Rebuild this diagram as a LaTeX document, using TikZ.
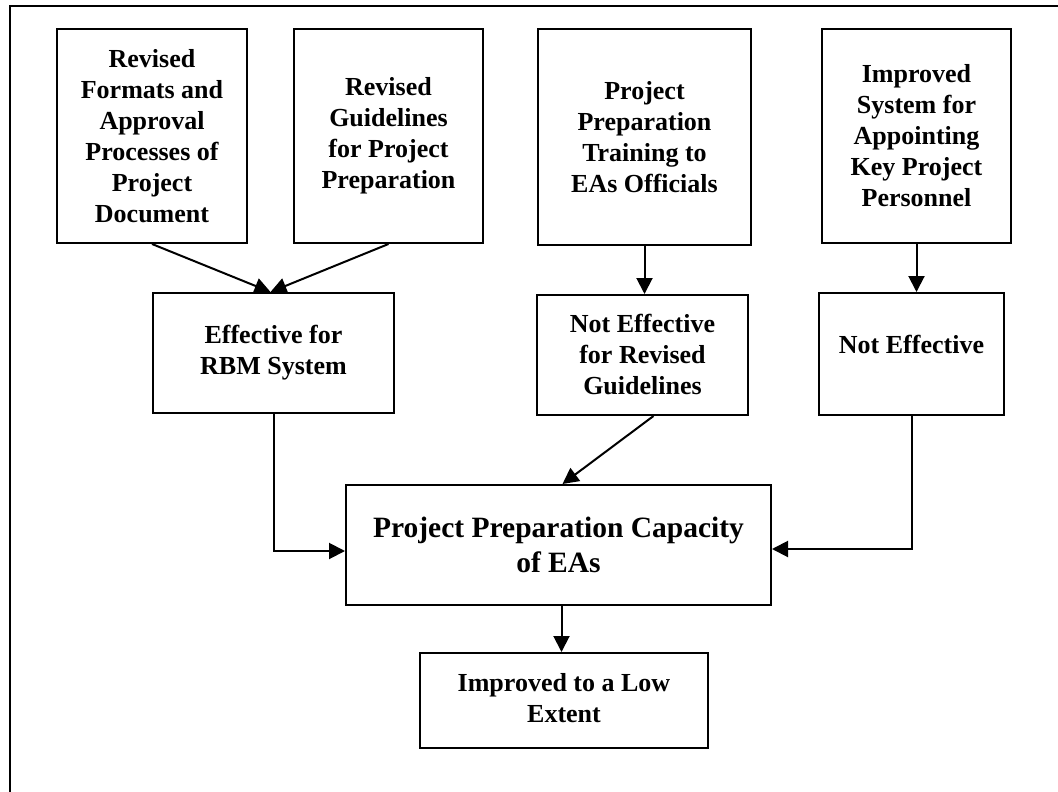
\documentclass[tikz,border=0pt]{standalone}
\usepackage{fontspec}
\setmainfont{Liberation Serif}
\usetikzlibrary{arrows.meta}
\begin{document}
\begin{tikzpicture}[x=1pt,y=-1pt,
  box/.style={draw,line width=2pt,align=center,inner sep=0pt,
    font=\bfseries\fontsize{26}{31}\selectfont},
  bigbox/.style={box,font=\bfseries\fontsize{29.5}{35}\selectfont},
  arr/.style={line width=2pt,-{Triangle[length=16pt,width=16pt]}}]
\useasboundingbox (0,0) rectangle (1058,792);
\draw[line width=1.2pt] (9,6) -- (1058,6);
\draw[line width=2.2pt] (10,6) -- (10,792);
% top row
\node[box,minimum width=190pt,minimum height=214pt] (b1) at (152,136)
  {Revised\\Formats and\\Approval\\Processes of\\Project\\Document};
\node[box,minimum width=189pt,minimum height=214pt] (b2) at (388.5,136)
  {Revised\\Guidelines\\for Project\\Preparation};
\node[box,minimum width=213pt,minimum height=216pt] (b3) at (644.5,137)
  {Project\\Preparation\\Training to\\EAs Officials};
\node[box,minimum width=189pt,minimum height=214pt] (b4) at (916.5,136)
  {Improved\\System for\\Appointing\\Key Project\\Personnel};
% middle row
\node[box,minimum width=241pt,minimum height=120pt] (b5) at (273.5,353)
  {Effective for\\RBM System};
\node[box,minimum width=211pt,minimum height=120pt] (b6) at (642.5,355)
  {Not Effective\\for Revised\\Guidelines};
\node[box,minimum width=185pt,minimum height=122pt] (b7) at (911.5,354)
  {\raisebox{20pt}{Not Effective}};
% bottom
\node[bigbox,minimum width=425pt,minimum height=120pt] (b8) at (558.5,545)
  {Project Preparation Capacity\\of EAs};
\node[box,minimum width=288pt,minimum height=95pt] (b9) at (564,700.5)
  {\raisebox{10pt}{\begin{tabular}{@{}c@{}}Improved to a Low\\Extent\end{tabular}}};
% connectors
\draw[arr] (b1.south) -- ([xshift=-3pt]b5.north);
\draw[arr] (b2.south) -- ([xshift=-3pt]b5.north);
\draw[arr] (b3.south) -- (b3.south |- b6.north);
\draw[arr] (b4.south) -- (b4.south |- b7.north);
\draw[arr] (b5.south) |- ([yshift=-6pt]b8.west);
\draw[arr] ([xshift=11pt]b6.south) -- ([xshift=4pt]b8.north);
\draw[arr] (b7.south) |- ([yshift=-4pt]b8.east);
\draw[arr] ([xshift=3pt]b8.south) -- ([xshift=3pt]b8.south |- b9.north);
\end{tikzpicture}
\end{document}
